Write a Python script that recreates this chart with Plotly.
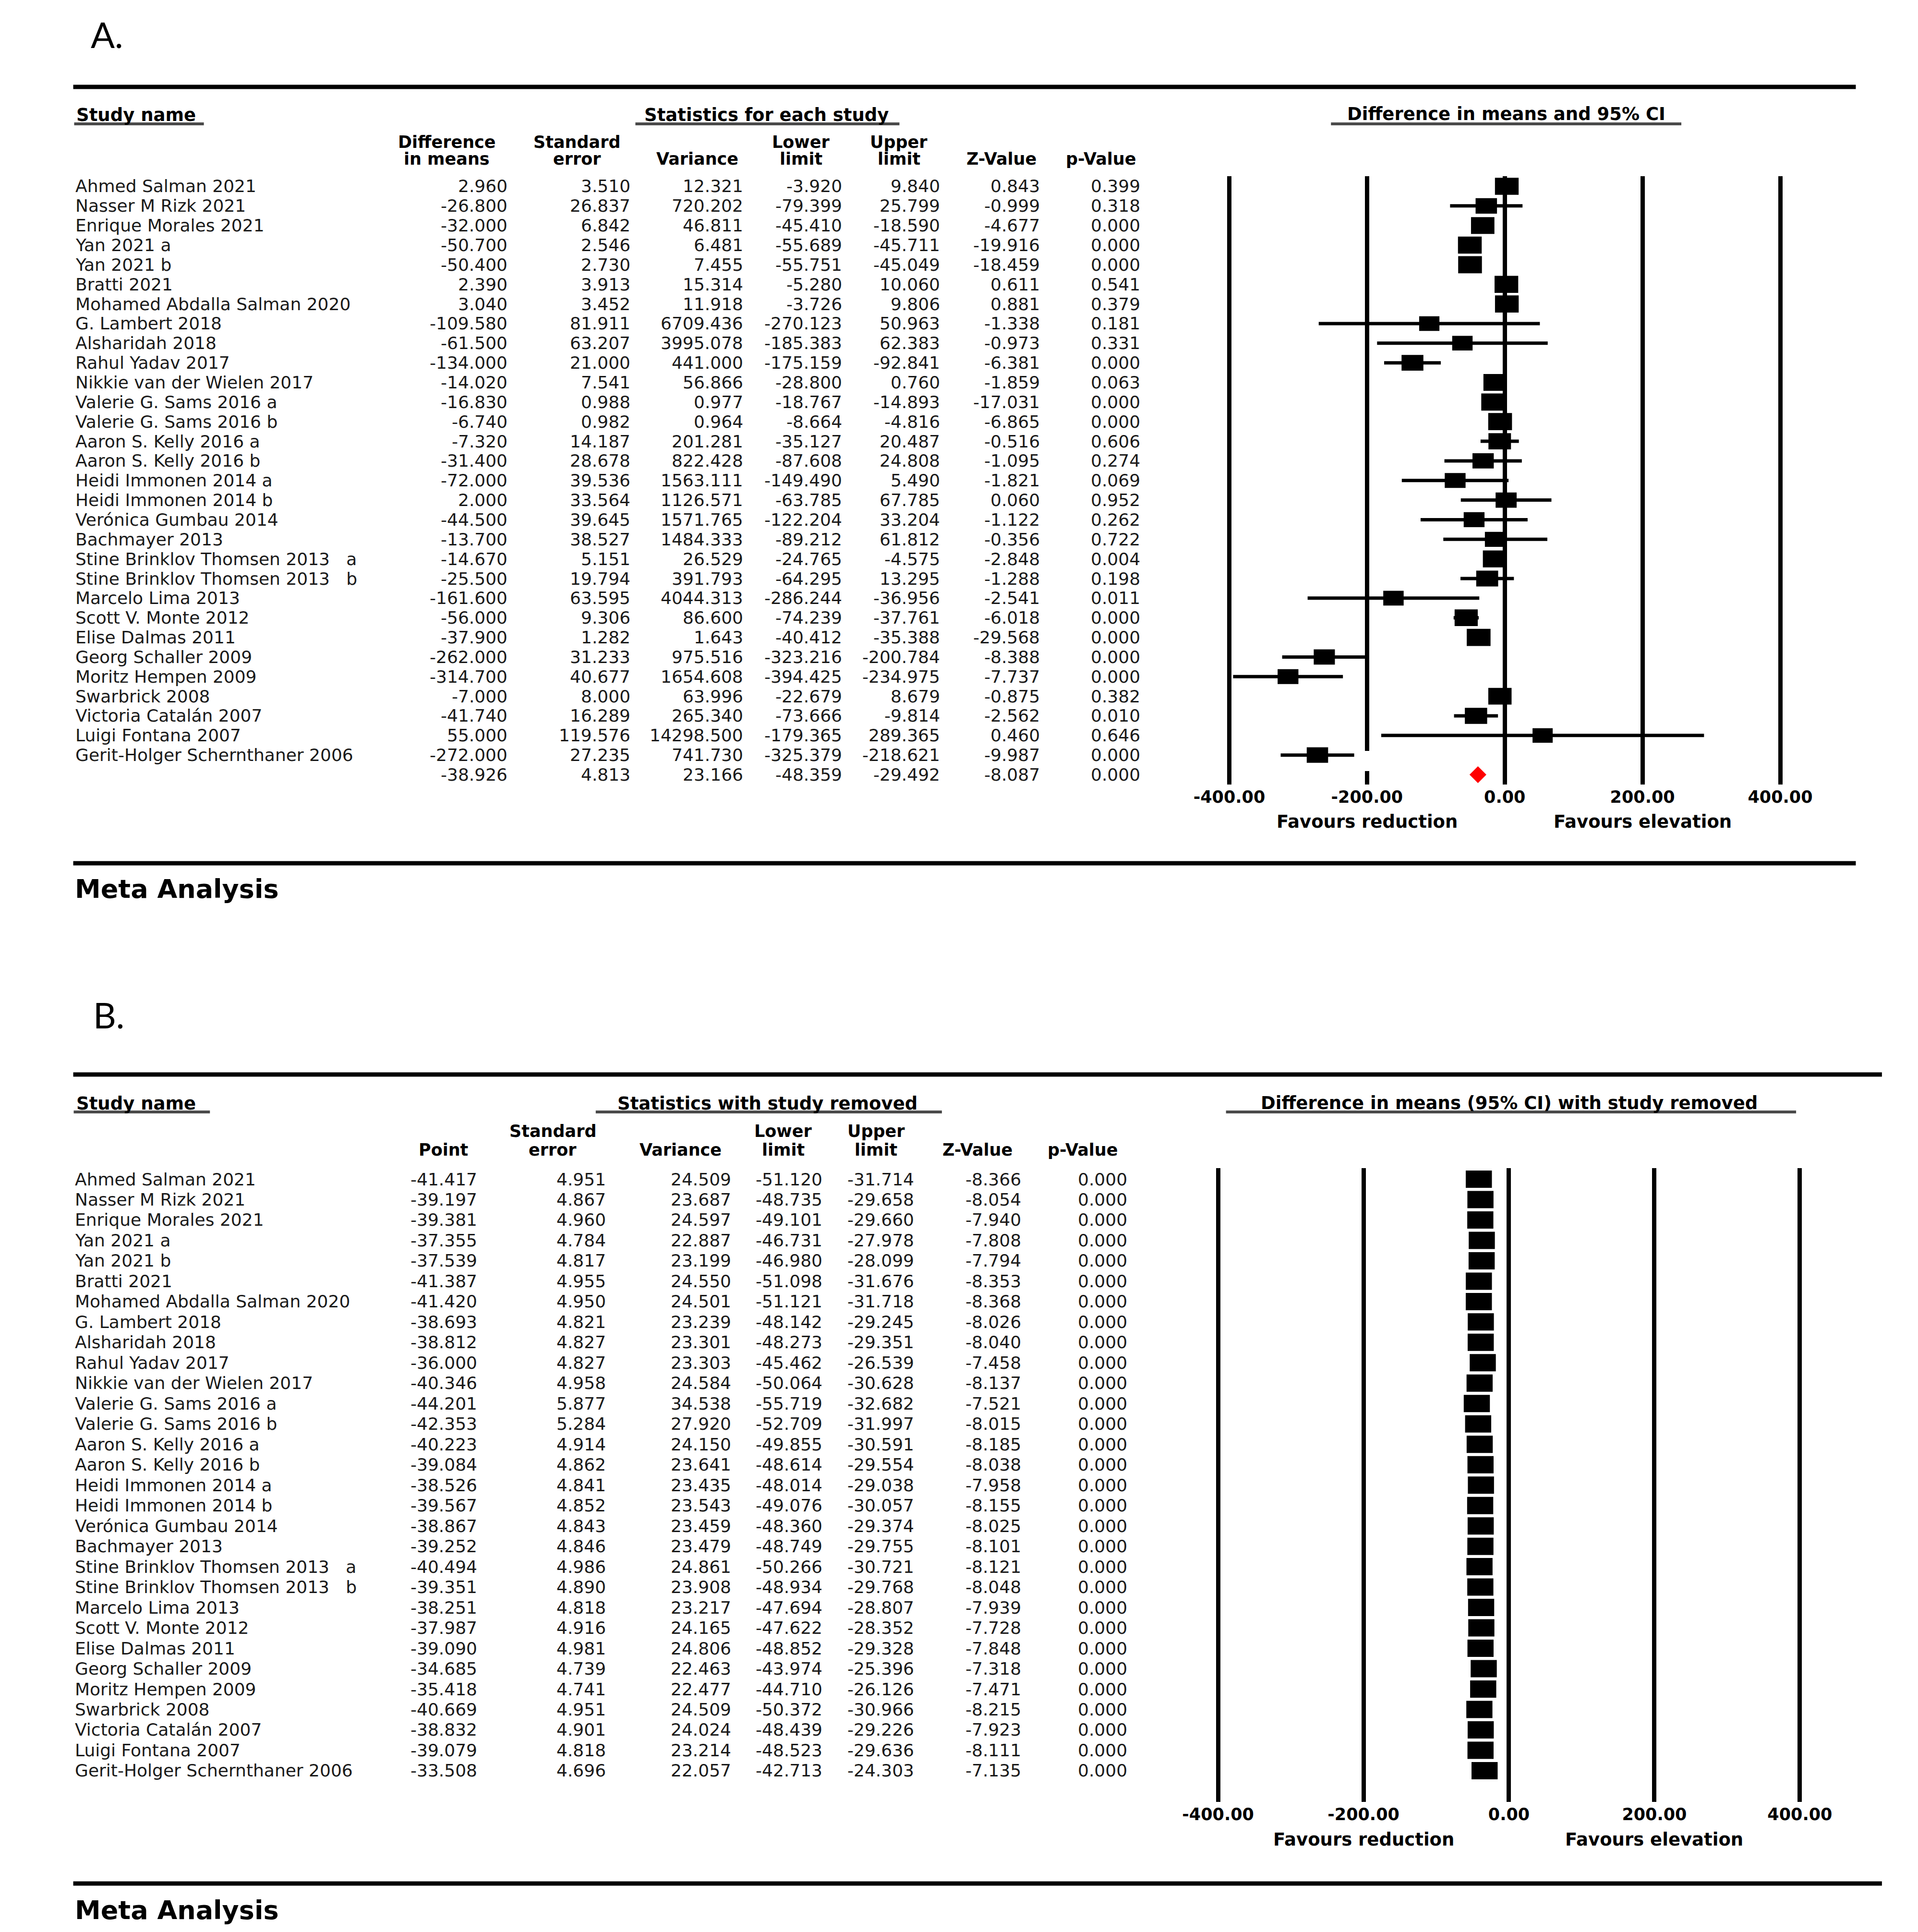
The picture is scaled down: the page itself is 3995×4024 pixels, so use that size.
import numpy as np
import plotly.graph_objects as go

# ---------------- data ----------------
STUDIES = [
    "Ahmed Salman 2021", "Nasser M Rizk 2021", "Enrique Morales 2021", "Yan 2021 a", "Yan 2021 b",
    "Bratti 2021", "Mohamed Abdalla Salman 2020", "G. Lambert 2018", "Alsharidah 2018", "Rahul Yadav 2017",
    "Nikkie van der Wielen 2017", "Valerie G. Sams 2016 a", "Valerie G. Sams 2016 b", "Aaron S. Kelly 2016 a",
    "Aaron S. Kelly 2016 b", "Heidi Immonen 2014 a", "Heidi Immonen 2014 b", "Verónica Gumbau 2014",
    "Bachmayer 2013", "Stine Brinklov Thomsen 2013\u00a0\u00a0 a", "Stine Brinklov Thomsen 2013\u00a0\u00a0 b",
    "Marcelo Lima 2013", "Scott V. Monte 2012", "Elise Dalmas 2011", "Georg Schaller 2009",
    "Moritz Hempen 2009", "Swarbrick 2008", "Victoria Catalán 2007", "Luigi Fontana 2007",
    "Gerit-Holger Schernthaner 2006",
]

# Panel A: statistics for each study
A_DIFF = [2.960, -26.800, -32.000, -50.700, -50.400, 2.390, 3.040, -109.580, -61.500, -134.000,
          -14.020, -16.830, -6.740, -7.320, -31.400, -72.000, 2.000, -44.500, -13.700, -14.670,
          -25.500, -161.600, -56.000, -37.900, -262.000, -314.700, -7.000, -41.740, 55.000, -272.000]
A_SE = [3.510, 26.837, 6.842, 2.546, 2.730, 3.913, 3.452, 81.911, 63.207, 21.000,
        7.541, 0.988, 0.982, 14.187, 28.678, 39.536, 33.564, 39.645, 38.527, 5.151,
        19.794, 63.595, 9.306, 1.282, 31.233, 40.677, 8.000, 16.289, 119.576, 27.235]
A_VAR = [12.321, 720.202, 46.811, 6.481, 7.455, 15.314, 11.918, 6709.436, 3995.078, 441.000,
         56.866, 0.977, 0.964, 201.281, 822.428, 1563.111, 1126.571, 1571.765, 1484.333, 26.529,
         391.793, 4044.313, 86.600, 1.643, 975.516, 1654.608, 63.996, 265.340, 14298.500, 741.730]
A_LOWER = [-3.920, -79.399, -45.410, -55.689, -55.751, -5.280, -3.726, -270.123, -185.383, -175.159,
           -28.800, -18.767, -8.664, -35.127, -87.608, -149.490, -63.785, -122.204, -89.212, -24.765,
           -64.295, -286.244, -74.239, -40.412, -323.216, -394.425, -22.679, -73.666, -179.365, -325.379]
A_UPPER = [9.840, 25.799, -18.590, -45.711, -45.049, 10.060, 9.806, 50.963, 62.383, -92.841,
           0.760, -14.893, -4.816, 20.487, 24.808, 5.490, 67.785, 33.204, 61.812, -4.575,
           13.295, -36.956, -37.761, -35.388, -200.784, -234.975, 8.679, -9.814, 289.365, -218.621]
A_Z = [0.843, -0.999, -4.677, -19.916, -18.459, 0.611, 0.881, -1.338, -0.973, -6.381,
       -1.859, -17.031, -6.865, -0.516, -1.095, -1.821, 0.060, -1.122, -0.356, -2.848,
       -1.288, -2.541, -6.018, -29.568, -8.388, -7.737, -0.875, -2.562, 0.460, -9.987]
A_P = [0.399, 0.318, 0.000, 0.000, 0.000, 0.541, 0.379, 0.181, 0.331, 0.000,
       0.063, 0.000, 0.000, 0.606, 0.274, 0.069, 0.952, 0.262, 0.722, 0.004,
       0.198, 0.011, 0.000, 0.000, 0.000, 0.000, 0.382, 0.010, 0.646, 0.000]
# overall (summary) row: diff, se, variance, lower, upper, z, p
A_SUMMARY = [-38.926, 4.813, 23.166, -48.359, -29.492, -8.087, 0.000]

# Panel B: statistics with study removed
B_POINT = [-41.417, -39.197, -39.381, -37.355, -37.539, -41.387, -41.420, -38.693, -38.812, -36.000,
           -40.346, -44.201, -42.353, -40.223, -39.084, -38.526, -39.567, -38.867, -39.252, -40.494,
           -39.351, -38.251, -37.987, -39.090, -34.685, -35.418, -40.669, -38.832, -39.079, -33.508]
B_SE = [4.951, 4.867, 4.960, 4.784, 4.817, 4.955, 4.950, 4.821, 4.827, 4.827,
        4.958, 5.877, 5.284, 4.914, 4.862, 4.841, 4.852, 4.843, 4.846, 4.986,
        4.890, 4.818, 4.916, 4.981, 4.739, 4.741, 4.951, 4.901, 4.818, 4.696]
B_VAR = [24.509, 23.687, 24.597, 22.887, 23.199, 24.550, 24.501, 23.239, 23.301, 23.303,
         24.584, 34.538, 27.920, 24.150, 23.641, 23.435, 23.543, 23.459, 23.479, 24.861,
         23.908, 23.217, 24.165, 24.806, 22.463, 22.477, 24.509, 24.024, 23.214, 22.057]
B_LOWER = [-51.120, -48.735, -49.101, -46.731, -46.980, -51.098, -51.121, -48.142, -48.273, -45.462,
           -50.064, -55.719, -52.709, -49.855, -48.614, -48.014, -49.076, -48.360, -48.749, -50.266,
           -48.934, -47.694, -47.622, -48.852, -43.974, -44.710, -50.372, -48.439, -48.523, -42.713]
B_UPPER = [-31.714, -29.658, -29.660, -27.978, -28.099, -31.676, -31.718, -29.245, -29.351, -26.539,
           -30.628, -32.682, -31.997, -30.591, -29.554, -29.038, -30.057, -29.374, -29.755, -30.721,
           -29.768, -28.807, -28.352, -29.328, -25.396, -26.126, -30.966, -29.226, -29.636, -24.303]
B_Z = [-8.366, -8.054, -7.940, -7.808, -7.794, -8.353, -8.368, -8.026, -8.040, -7.458,
       -8.137, -7.521, -8.015, -8.185, -8.038, -7.958, -8.155, -8.025, -8.101, -8.121,
       -8.048, -7.939, -7.728, -7.848, -7.318, -7.471, -8.215, -7.923, -8.111, -7.135]
B_P = [0.000] * 30

TICK_VALS = [-400, -200, 0, 200, 400]
TICK_TEXT = ["-400.00", "-200.00", "0.00", "200.00", "400.00"]

# ---------------- layout geometry (pixels) ----------------
W, H = 3995, 4024


def px(x):
    return x / W


def py(y):
    return 1 - y / H


# Panel A geometry
A_ROW0, A_ROWSTEP = 380.0, 40.85
A_PLOT_TOP, A_PLOT_BOT = 359.0, 1626.0
A_X_LEFT, A_X_RIGHT = 2565.0, 3746.0      # pixel positions of -400 and +400
# Panel B geometry
B_ROW0, B_ROWSTEP = 2448.0, 42.48
B_PLOT_TOP, B_PLOT_BOT = 2425.0, 3745.0
B_X_LEFT, B_X_RIGHT = 2541.0, 3788.0

PXU_A = (A_X_RIGHT - A_X_LEFT) / 800.0
PXU_B = (B_X_RIGHT - B_X_LEFT) / 800.0
PAD = 10.0   # extra axis range so the +-400 grid lines are drawn

FAM = "DejaVu Sans"
BODY = dict(family=FAM, size=36, color="#1a1a1a")
HEAD = dict(family=FAM, size=35, color="black", weight="bold")
TITLE = dict(family=FAM, size=37, color="black", weight="bold")

fig = go.Figure()

# ---------------- Panel A marks ----------------
rows_a = np.arange(len(STUDIES))
diff_a = np.array(A_DIFF)
var_a = np.array(A_VAR)
wt = 1.0 / (var_a + 400.0)
rel = wt / wt.max()
box_w_px = 43 + 8 * rel
box_h_px = box_w_px * 0.7
bw_a = box_w_px / PXU_A

fig.add_trace(go.Scatter(
    x=diff_a, y=rows_a, mode="markers",
    marker=dict(size=2, color="rgba(0,0,0,0)"),
    error_x=dict(type="data", symmetric=False,
                 array=np.array(A_UPPER) - diff_a,
                 arrayminus=diff_a - np.array(A_LOWER),
                 color="black", thickness=7, width=0),
    xaxis="x", yaxis="y", showlegend=False, hoverinfo="skip"))
fig.add_trace(go.Bar(
    x=bw_a, base=diff_a - bw_a / 2, y=rows_a, width=box_h_px / A_ROWSTEP,
    orientation="h", marker=dict(color="black", line=dict(width=0)),
    xaxis="x", yaxis="y", showlegend=False, hoverinfo="skip"))
fig.add_trace(go.Scatter(
    x=[A_SUMMARY[0]], y=[len(STUDIES)], mode="markers",
    marker=dict(symbol="diamond", size=27, color="#ff0000", line=dict(width=0)),
    xaxis="x", yaxis="y", showlegend=False, hoverinfo="skip"))

# ---------------- Panel B marks ----------------
rows_b = np.arange(len(STUDIES))
pt_b = np.array(B_POINT)
bw_b = 56 / PXU_B
fig.add_trace(go.Scatter(
    x=pt_b, y=rows_b, mode="markers",
    marker=dict(size=2, color="rgba(0,0,0,0)"),
    error_x=dict(type="data", symmetric=False,
                 array=np.array(B_UPPER) - pt_b,
                 arrayminus=pt_b - np.array(B_LOWER),
                 color="black", thickness=7, width=0),
    xaxis="x2", yaxis="y2", showlegend=False, hoverinfo="skip"))
fig.add_trace(go.Bar(
    x=[bw_b] * len(pt_b), base=pt_b - bw_b / 2, y=rows_b, width=36 / B_ROWSTEP,
    orientation="h", marker=dict(color="black", line=dict(width=0)),
    xaxis="x2", yaxis="y2", showlegend=False, hoverinfo="skip"))

# ---------------- annotations ----------------
ann = []


def text(t, x, y, font, xanchor="center", yref="paper", xref="paper"):
    ann.append(dict(text=t, x=x, y=y, xref=xref, yref=yref, xanchor=xanchor,
                    yanchor="middle", showarrow=False, font=font))


def fmt(v):
    return f"{v:.3f}"


# Panel labels
text("A.", px(122), py(64), dict(family="Lato", size=74, color="black"), xanchor="left")
text("B.", px(128), py(2105), dict(family="Lato", size=74, color="black"), xanchor="left")

# Panel A titles and headers
text("Study name", px(92), py(232), TITLE, xanchor="left")
text("Statistics for each study", px(1573), py(232), TITLE)
text("Difference in means and 95% CI", px(3159), py(230), TITLE)
A_HL1, A_HL2 = 288, 323
for t, x, y in [("Difference", 888, A_HL1), ("in means", 888, A_HL2),
                ("Standard", 1167, A_HL1), ("error", 1167, A_HL2),
                ("Variance", 1425, A_HL2),
                ("Lower", 1647, A_HL1), ("limit", 1647, A_HL2),
                ("Upper", 1857, A_HL1), ("limit", 1857, A_HL2),
                ("Z-Value", 2077, A_HL2), ("p-Value", 2290, A_HL2)]:
    text(t, px(x), py(y), HEAD)

A_COLS = [1020, 1283, 1525, 1737, 1947, 2161, 2376]
a_table = [A_DIFF, A_SE, A_VAR, A_LOWER, A_UPPER, A_Z, A_P]
for i, name in enumerate(STUDIES):
    text(name, px(90), i, BODY, xanchor="left", yref="y")
    for col, xr in zip(a_table, A_COLS):
        text(fmt(col[i]), px(xr), i, BODY, xanchor="right", yref="y")
for v, xr in zip(A_SUMMARY, A_COLS):
    text(fmt(v), px(xr), len(STUDIES), BODY, xanchor="right", yref="y")

text("Favours reduction", -200, py(1704), TITLE, xref="x")
text("Favours elevation", 200, py(1704), TITLE, xref="x")
text("Meta Analysis", px(88), py(1843), dict(family=FAM, size=54, color="black", weight="bold"),
     xanchor="left")

# Panel B titles and headers
text("Study name", px(92), py(2290), TITLE, xanchor="left")
text("Statistics with study removed", px(1575), py(2290), TITLE)
text("Difference in means (95% CI) with study removed", px(3165), py(2289), TITLE)
B_HL1, B_HL2 = 2348, 2387
for t, x, y in [("Point", 880, B_HL2),
                ("Standard", 1115, B_HL1), ("error", 1115, B_HL2),
                ("Variance", 1389, B_HL2),
                ("Lower", 1609, B_HL1), ("limit", 1609, B_HL2),
                ("Upper", 1808, B_HL1), ("limit", 1808, B_HL2),
                ("Z-Value", 2025, B_HL2), ("p-Value", 2251, B_HL2)]:
    text(t, px(x), py(y), HEAD)

B_COLS = [955, 1231, 1499, 1695, 1892, 2121, 2348]
b_table = [B_POINT, B_SE, B_VAR, B_LOWER, B_UPPER, B_Z, B_P]
for i, name in enumerate(STUDIES):
    text(name, px(88), i, BODY, xanchor="left", yref="y2")
    for col, xr in zip(b_table, B_COLS):
        text(fmt(col[i]), px(xr), i, BODY, xanchor="right", yref="y2")

text("Favours reduction", -200, py(3823), TITLE, xref="x2")
text("Favours elevation", 200, py(3823), TITLE, xref="x2")
text("Meta Analysis", px(88), py(3970), dict(family=FAM, size=54, color="black", weight="bold"),
     xanchor="left")

# ---------------- rules / underlines ----------------
shapes = []


def hline(x0, x1, y, width, color="black"):
    shapes.append(dict(type="line", xref="paper", yref="paper", x0=px(x0), x1=px(x1),
                       y0=py(y), y1=py(y), line=dict(color=color, width=width), layer="above"))


hline(87, 3908, 173, 9)
hline(87, 3908, 1790, 9)
hline(87, 3964, 2230, 9)
hline(87, 3964, 3915, 9)
UL = "#4a4a4a"
hline(89, 367, 250, 6, UL)
hline(1292, 1858, 250, 6, UL)
hline(2783, 3534, 250, 6, UL)
hline(88, 380, 2308, 6, UL)
hline(1207, 1949, 2308, 6, UL)
hline(2558, 3780, 2308, 6, UL)
# small white gap in the -200 reference line of panel A (as in the source image)
shapes.append(dict(type="rect", xref="paper", yref="paper", x0=px(2838), x1=px(2882),
                   y0=py(1598), y1=py(1556), fillcolor="white", line=dict(width=0), layer="above"))


def xaxis(domain, anchor):
    return dict(domain=domain, range=[-400 - PAD, 400 + PAD], anchor=anchor,
                tickvals=TICK_VALS, ticktext=TICK_TEXT, showgrid=True, gridcolor="black",
                gridwidth=9, zeroline=False, showline=False, ticks="",
                tickfont=dict(family=FAM, size=35, color="black", weight="bold"),
                ticklabelstandoff=2)


a_r0 = (A_PLOT_TOP - A_ROW0) / A_ROWSTEP
a_r1 = (A_PLOT_BOT - A_ROW0) / A_ROWSTEP
b_r0 = (B_PLOT_TOP - B_ROW0) / B_ROWSTEP
b_r1 = (B_PLOT_BOT - B_ROW0) / B_ROWSTEP

fig.update_layout(
    width=W, height=H, margin=dict(l=0, r=0, t=0, b=0),
    paper_bgcolor="white", plot_bgcolor="white", showlegend=False, barmode="overlay",
    xaxis=xaxis([px(A_X_LEFT - PAD * PXU_A), px(A_X_RIGHT + PAD * PXU_A)], "y"),
    yaxis=dict(domain=[py(A_PLOT_BOT), py(A_PLOT_TOP)], range=[a_r1, a_r0], visible=False,
               anchor="x"),
    xaxis2=xaxis([px(B_X_LEFT - PAD * PXU_B), px(B_X_RIGHT + PAD * PXU_B)], "y2"),
    yaxis2=dict(domain=[py(B_PLOT_BOT), py(B_PLOT_TOP)], range=[b_r1, b_r0], visible=False,
                anchor="x2"),
    annotations=ann, shapes=shapes,
)

fig.write_html("out.html")
